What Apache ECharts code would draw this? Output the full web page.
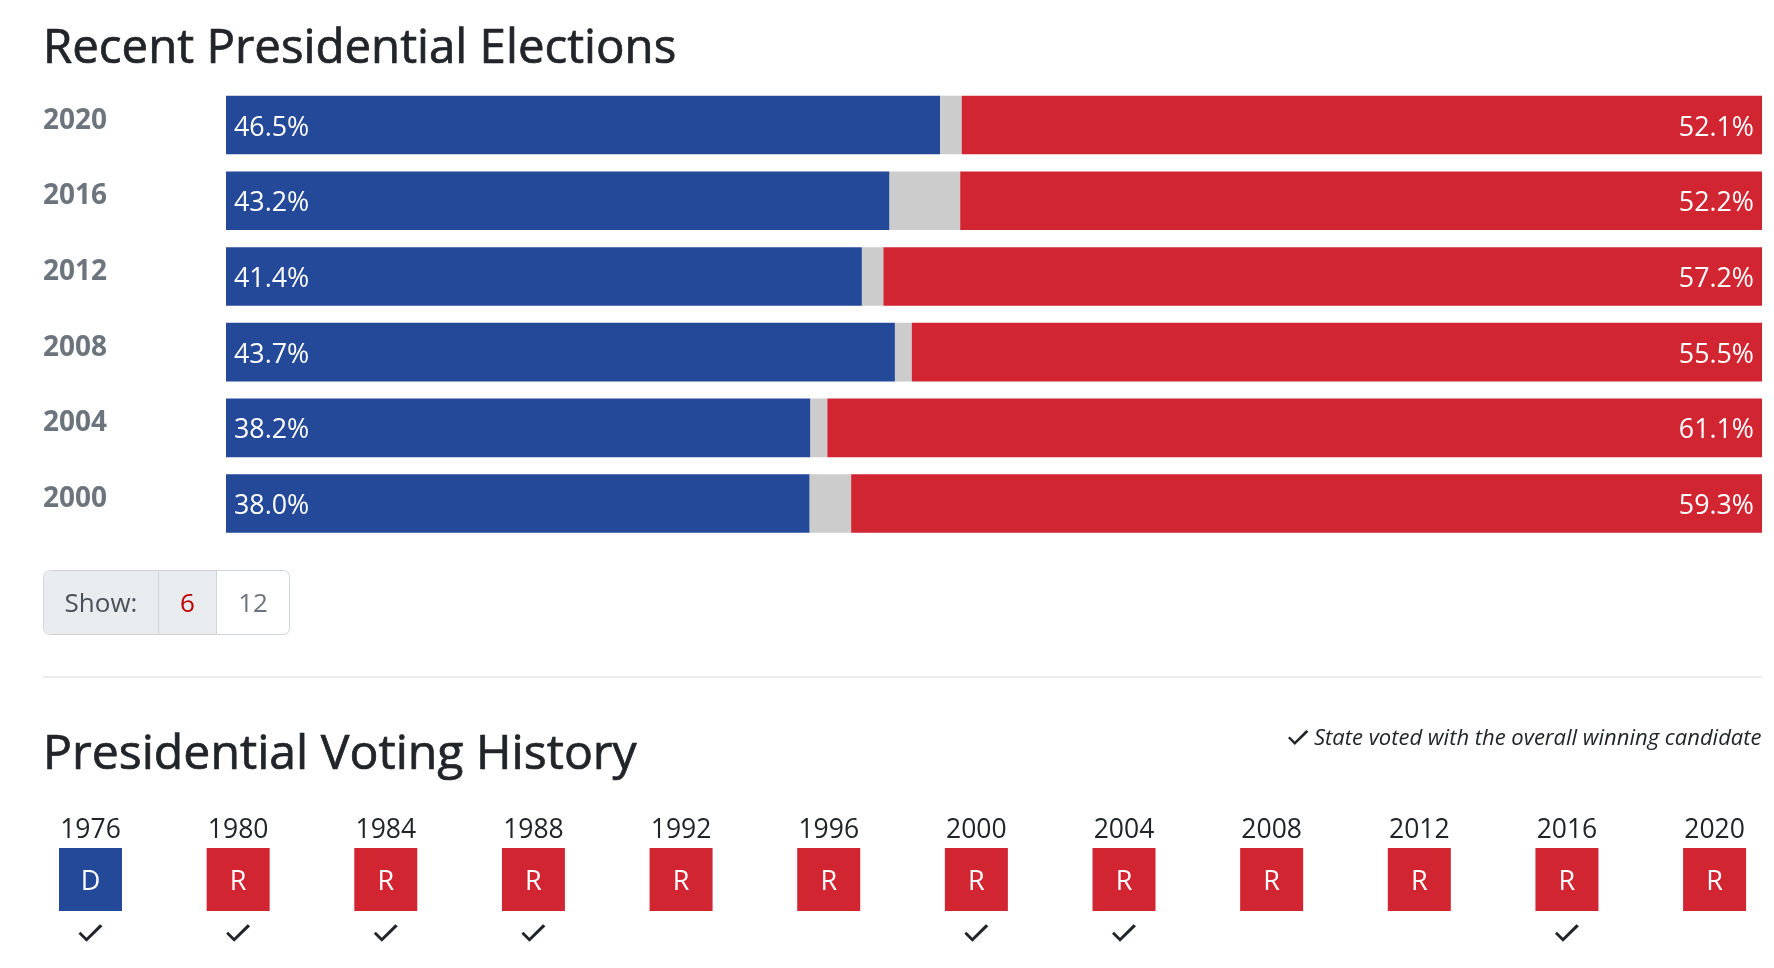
<!DOCTYPE html>
<html>
<head>
<meta charset="utf-8">
<title>Presidential Elections</title>
<script src="https://cdn.jsdelivr.net/npm/echarts@6/dist/echarts.min.js"></script>
<style>
  html, body { margin: 0; padding: 0; background: #fff; }
  #chart { width: 1774px; height: 968px; }
</style>
</head>
<body>
<div id="chart"></div>
<script>
// recent elections, top row first
const electionYears = ['2020', '2016', '2012', '2008', '2004', '2000'];
// printed percentages
const demShare = [46.5, 43.2, 41.4, 43.7, 38.2, 38.0];
const repShare = [52.1, 52.2, 57.2, 55.5, 61.1, 59.3];
// segment widths as drawn, the grey one has a minimum width so 2008 and 2004 differ a bit from the labels
const demWidth = [46.5, 43.2, 41.4, 43.55, 38.05, 38.0];
const otherWidth = [1.4, 4.6, 1.4, 1.1, 1.1, 2.7];
const repWidth = [52.1, 52.2, 57.2, 55.35, 60.85, 59.3];

// voting history, left to right
const historyYears = ['1976', '1980', '1984', '1988', '1992', '1996', '2000', '2004', '2008', '2012', '2016', '2020'];
const historyParty = ['D', 'R', 'R', 'R', 'R', 'R', 'R', 'R', 'R', 'R', 'R', 'R'];
const historyWinner = [1, 1, 1, 1, 0, 0, 1, 1, 0, 0, 1, 0];

const BLUE = '#244999';
const RED = '#d22532';
const GREY = '#cccccc';
const INK = '#212529';
const FONT = '"Open Sans", sans-serif';
const CHECK_POINTS = [[0, 9.5], [2, 7.5], [8, 13.5], [21.5, 0], [24, 2], [8, 17.5]];
const CHECK = 'path://M' + CHECK_POINTS.join(' L') + ' Z';

const chart = echarts.init(document.getElementById('chart'));

const barLabel = (position, shares) => ({
    show: true,
    position: position,
    distance: 8,
    offset: [0, 3],
    color: '#fff',
    fontFamily: FONT,
    fontSize: 26.8,
    formatter: (p) => shares[p.dataIndex].toFixed(1) + '%'
});

const headingStyle = (size) => ({
    fontFamily: FONT, fontSize: size, fontWeight: 'normal', color: INK,
    textBorderColor: INK, textBorderWidth: 0.7
});

chart.setOption({
    animation: false,
    textStyle: { fontFamily: FONT },
    title: [
        { text: 'Recent Presidential Elections', left: 38, top: 21, textStyle: headingStyle(47.4) },
        { text: 'Presidential Voting History', left: 38, top: 726, textStyle: headingStyle(48.2) },
        { text: 'State voted with the overall winning candidate', right: 7.5, top: 723, textStyle: { fontFamily: FONT, fontSize: 22, fontWeight: 'normal', fontStyle: 'italic', color: INK } }
    ],
    grid: [
        { left: 226, right: 12, top: 87.2, height: 454.2 },
        { left: 90.5, right: 59.4, top: 852.75, height: 107 }
    ],
    xAxis: [
        { type: 'value', gridIndex: 0, min: 0, max: 100, show: false },
        {
            type: 'category', gridIndex: 1, position: 'top', boundaryGap: false, data: historyYears,
            axisLine: { show: false }, axisTick: { show: false },
            axisLabel: { color: INK, fontSize: 26.5, margin: 9, interval: 0 }
        }
    ],
    yAxis: [
        {
            type: 'category', gridIndex: 0, inverse: true, data: electionYears,
            axisLine: { show: false }, axisTick: { show: false },
            // labels sit a little above the middle of each bar
            axisLabel: { align: 'left', margin: 183, color: '#6c757d', fontWeight: 'bold', fontSize: 28, verticalAlign: 'bottom', lineHeight: 9 }
        },
        { type: 'category', gridIndex: 1, inverse: true, data: ['party', 'winner'], show: false }
    ],
    series: [
        { name: 'Democratic', type: 'bar', stack: 'vote', xAxisIndex: 0, yAxisIndex: 0, barWidth: 58.6, data: demWidth, itemStyle: { color: BLUE }, label: barLabel('insideLeft', demShare) },
        { name: 'Other', type: 'bar', stack: 'vote', xAxisIndex: 0, yAxisIndex: 0, barWidth: 58.6, data: otherWidth, itemStyle: { color: GREY } },
        { name: 'Republican', type: 'bar', stack: 'vote', xAxisIndex: 0, yAxisIndex: 0, barWidth: 58.6, data: repWidth, itemStyle: { color: RED }, label: barLabel('insideRight', repShare) },
        {
            name: 'Party', type: 'scatter', xAxisIndex: 1, yAxisIndex: 1, symbol: 'rect', symbolSize: 63,
            data: historyParty.map((p, i) => ({ value: [i, 0], party: p, itemStyle: { color: p === 'D' ? BLUE : RED, opacity: 1 } })),
            label: { show: true, position: 'inside', offset: [0, 3], color: '#fff', fontSize: 27, formatter: (p) => p.data.party }
        },
        {
            name: 'Winner', type: 'scatter', xAxisIndex: 1, yAxisIndex: 1, symbol: CHECK, symbolSize: [24, 17.5],
            itemStyle: { color: INK, opacity: 1 },
            data: historyWinner.map((w, i) => (w ? [i, 1] : null)).filter(Boolean)
        }
    ],
    graphic: [
        // show 6 / 12 toggle
        { type: 'rect', shape: { x: 43.5, y: 570.5, width: 246, height: 64, r: 6 }, style: { fill: '#fff', stroke: '#ced4da', lineWidth: 1 } },
        { type: 'rect', shape: { x: 44, y: 571, width: 172, height: 63, r: [6, 0, 0, 6] }, style: { fill: '#e9ecef' } },
        { type: 'line', shape: { x1: 158.5, y1: 571, x2: 158.5, y2: 634 }, style: { stroke: '#ced4da', lineWidth: 1 } },
        { type: 'line', shape: { x1: 216.5, y1: 571, x2: 216.5, y2: 634 }, style: { stroke: '#ced4da', lineWidth: 1 } },
        { type: 'text', x: 101, y: 605, style: { text: 'Show:', font: '26px ' + FONT, fill: '#495057', textAlign: 'center', textVerticalAlign: 'middle' } },
        { type: 'text', x: 187.5, y: 605, style: { text: '6', font: '26px ' + FONT, fill: '#bb0000', textAlign: 'center', textVerticalAlign: 'middle' } },
        { type: 'text', x: 253, y: 605, style: { text: '12', font: '26px ' + FONT, fill: '#6c757d', textAlign: 'center', textVerticalAlign: 'middle' } },
        // divider
        { type: 'line', shape: { x1: 43, y1: 677, x2: 1762, y2: 677 }, style: { stroke: '#e2e5e8', lineWidth: 1.5 } },
        // check in front of the note
        { type: 'polygon', x: 1288, y: 730, scaleX: 0.85, scaleY: 0.85, shape: { points: CHECK_POINTS }, style: { fill: INK } }
    ]
});
</script>
</body>
</html>
